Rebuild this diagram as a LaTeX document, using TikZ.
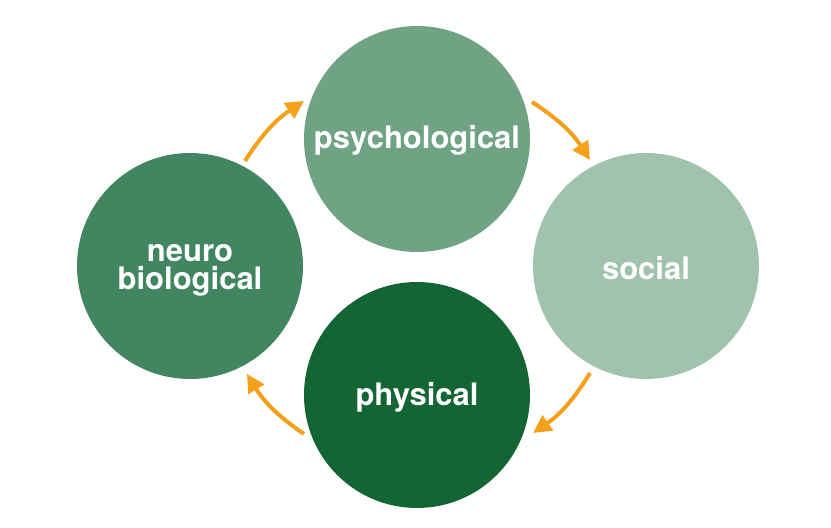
\documentclass[tikz,border=0pt]{standalone}
\usepackage{fontspec}
\setmainfont{TeX Gyre Heros}
\usetikzlibrary{arrows.meta}
\definecolor{psychcol}{HTML}{6FA384}
\definecolor{socialcol}{HTML}{A1C3AE}
\definecolor{physcol}{HTML}{136534}
\definecolor{neurocol}{HTML}{418660}
\definecolor{arrowcol}{HTML}{F5A01A}
\tikzset{
  bubble/.style={circle, minimum size=226pt, inner sep=0pt},
  bubbletext/.style={text=white, inner sep=0pt,
    font=\bfseries\fontsize{31}{28}\selectfont, align=center},
  cyclearrow/.style={draw=arrowcol, line width=4pt,
    -{Triangle[length=18pt,width=18pt]}, bend left=12}
}
\begin{document}
\begin{tikzpicture}[x=1pt,y=1pt]
\useasboundingbox (0,0) rectangle (831,528);
\node[bubble, fill=psychcol] (psych) at (417,389) {};
\node[bubble, fill=socialcol] (social) at (646,262) {};
\node[bubble, fill=physcol] (phys) at (417,133) {};
\node[bubble, fill=neurocol] (neuro) at (190,262) {};
\node[bubbletext] (psychlabel) at ([yshift=-1pt]psych.center) {psychological};
\node[bubbletext] (sociallabel) at ([yshift=-2pt]social.center) {social};
\node[bubbletext] (physlabel) at ([yshift=-2pt]phys.center) {physical};
\node[bubbletext] (neurolabel) at ([yshift=-4pt]neuro.center) {neuro\\biological};
\coordinate (a1s) at (245,367);
\coordinate (a1e) at (304,427);
\coordinate (a2s) at (532,426);
\coordinate (a2e) at (590,368);
\coordinate (a3s) at (590,155);
\coordinate (a3e) at (533,95);
\coordinate (a4s) at (304,94);
\coordinate (a4e) at (247,154);
\draw[cyclearrow] (a1s) to (a1e);
\draw[cyclearrow] (a2s) to (a2e);
\draw[cyclearrow] (a3s) to (a3e);
\draw[cyclearrow] (a4s) to (a4e);
\end{tikzpicture}
\end{document}
